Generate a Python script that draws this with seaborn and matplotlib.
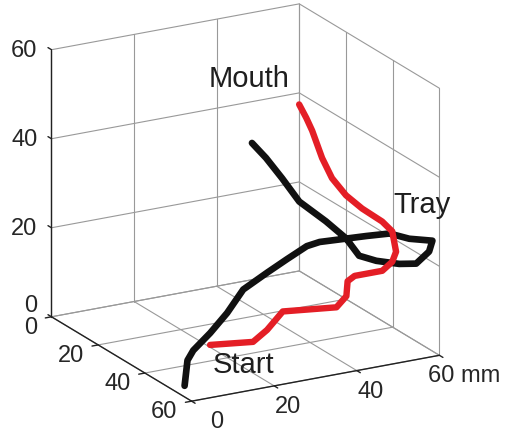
import numpy as np
import matplotlib
matplotlib.use('Agg')
import matplotlib.pyplot as plt
import matplotlib.transforms as mtransforms
import seaborn as sns

# Hand trajectories in mm

red_x = [7.3, 17.7, 21.1, 24.9, 37.9, 40.3, 40.6, 42.3, 49.0, 51.4,
         52.9, 53.1, 51.8, 49.2, 47.0, 45.3, 44.6, 43.9, 43.6, 43.0]
red_y = [55, 55, 55, 55, 55, 55, 55, 55, 55, 55,
         54, 52, 50, 46, 43, 40, 37, 34, 32, 30]
red_z = [9.8, 8.7, 10.8, 14.3, 13.0, 15.1, 18.4, 19.3, 19.3, 20.9,
         22.6, 26.5, 28.3, 30.4, 32.8, 36.0, 39.7, 45.0, 47.3, 49.8]

black_x = [0.0, 0.7, 2.1, 6.2, 10.3, 14.2, 20.0, 24.8, 29.6, 32.7, 38.3, 44.0, 49.6,
           54.4, 60.0, 59.2, 57.2, 54.8, 51.5, 49.6, 48.7, 46.1, 41.9, 40.0, 37.8, 36.1]
black_y = [57, 57, 57, 57, 57, 57, 57, 57, 57, 57, 57, 57, 57,
           57, 57, 57, 55, 52, 48, 44, 40, 36, 32, 28, 25, 22]
black_z = [2.5, 8.1, 10.1, 13.3, 17.1, 21.7, 24.5, 26.7, 28.8, 29.2, 28.9, 28.6, 28.2,
           26.2, 24.8, 22.5, 19.5, 18.9, 18.9, 19.1, 21.9, 24.9, 28.8, 33.1, 37.1, 39.8]

ticks = [0, 20, 40, 60]
x_labels = ['0', '20', '40', '60 mm']
y_labels = ['0', '20', '40', '60']
z_labels = ['0', '20', '40', '60']

sns.set_theme(style='white')
plt.rcParams['font.family'] = ['Liberation Sans', 'DejaVu Sans']

W_PX, H_PX = 505, 431
fig = plt.figure(figsize=(W_PX / 100, H_PX / 100), dpi=100)
ax = fig.add_subplot(projection='3d', proj_type='ortho', computed_zorder=False)
lo, hi = ticks[0], ticks[-1]
ax.set_xlim(lo, hi)
ax.set_ylim(hi, lo)   # y grows towards the viewer
ax.set_zlim(lo, hi)
ax.set_box_aspect((1, 1.02, 1))
ax.view_init(elev=19.5, azim=-119)
ax.set_xticks([])
ax.set_yticks([])
ax.set_zticks([])
ax.set_axis_off()
ax.title.set_visible(False)
for a in (ax.xaxis, ax.yaxis, ax.zaxis):
    a.label.set_visible(False)
    a.offsetText.set_visible(False)

# grid on the back walls and the floor
grid = dict(color='#999999', lw=0.8, zorder=1)
for t in ticks:
    ax.plot([t, t], [lo, lo], [lo, hi], **grid)
    ax.plot([lo, hi], [lo, lo], [t, t], **grid)
    ax.plot([hi, hi], [t, t], [lo, hi], **grid)
    ax.plot([hi, hi], [lo, hi], [t, t], **grid)
    ax.plot([t, t], [lo, hi], [lo, lo], **grid)
    ax.plot([lo, hi], [t, t], [lo, lo], **grid)

# black axis lines with small ticks
axis = dict(color='#222222', lw=1.0, zorder=2)
ax.plot([lo, lo], [lo, lo], [lo, hi], **axis)
ax.plot([lo, lo], [lo, hi], [lo, lo], **axis)
ax.plot([lo, hi], [hi, hi], [lo, lo], **axis)
tk = 1.5
for t in ticks:
    ax.plot([lo, lo], [lo, lo - tk], [t, t], **axis)
    ax.plot([lo, lo - tk], [t, t], [lo, lo], **axis)
    ax.plot([t, t], [hi, hi + tk], [lo, lo], **axis)

ax.plot(black_x, black_y, black_z, color='#111111', lw=4.8,
        solid_capstyle='round', zorder=3)
ax.plot(red_x, red_y, red_z, color='#e41e26', lw=4.6,
        solid_capstyle='round', zorder=4)


def shifted(dx, dy):
    return mtransforms.offset_copy(ax.transData, fig=fig, x=dx, y=dy, units='dots')


tick_font = dict(fontsize=17, color='#262626')
for t, s in zip(ticks, z_labels):
    ax.text(lo, lo, t, s, ha='right', va='center',
            transform=shifted(-14, 12 if t == lo else 0), **tick_font)
for t, s in zip(ticks, y_labels):
    ax.text(lo, t, lo, s, ha='right', va='center',
            transform=shifted(-14, -10), **tick_font)
for t, s in zip(ticks, x_labels):
    dx = 25 if t in (lo, hi) else 14
    ax.text(t, hi, lo, s, ha='center', va='center',
            transform=shifted(dx, -20), **tick_font)

# fit the box onto the corner spots of the reference (least squares, scale + shift)
fig.canvas.draw()
M = ax.get_proj()


def corner_px(x, y, z):
    v = M @ np.array([x, y, z, 1.0])
    return np.array(ax.transData.transform((v[0] / v[3], v[1] / v[3])))


corners = [(lo, hi, lo), (lo, lo, lo), (lo, lo, hi), (hi, lo, lo),
           (hi, lo, hi), (hi, hi, lo), (hi, hi, hi)]
spots = [(190, 402), (52, 317), (52, 52), (298, 272), (298, 5), (441, 356), (441, 89)]
box = ax.get_position()
o = np.array([box.x0 * W_PX, box.y0 * H_PX])
w = box.width * W_PX
q = np.array([corner_px(*c) for c in corners]) - o
t_px = np.array([(sx, H_PX - sy) for sx, sy in spots], dtype=float)
qc, tc = q - q.mean(axis=0), t_px - t_px.mean(axis=0)
s = (qc * tc).sum() / (qc ** 2).sum()
o_new = t_px.mean(axis=0) - s * q.mean(axis=0)
ax.set_position([o_new[0] / W_PX, o_new[1] / H_PX, w * s / W_PX, w * s / H_PX])

lab = dict(fontsize=21, color='#1e1e1e', ha='center', va='baseline')
fig.text(249.5 / W_PX, 1 - 87 / H_PX, 'Mouth', **lab)
fig.text(422.5 / W_PX, 1 - 213 / H_PX, 'Tray', **lab)
fig.text(244 / W_PX, 1 - 373 / H_PX, 'Start', **lab)

fig.savefig('out.png', dpi=100)
